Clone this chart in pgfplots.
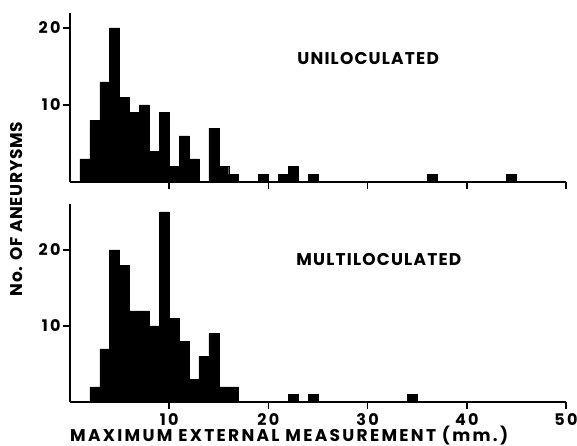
\documentclass[border=0pt]{standalone}
\usepackage{fontspec}
\setmainfont{Poppins}[LetterSpace=7]
\usepackage{pgfplots}
\pgfplotsset{compat=1.18}

% bins are 1 mm wide, x = left edge of bin; last row closes the last bin
\pgfplotstableread{
x  n
1  3
2  8
3  13
4  20
5  11
6  9
7  10
8  4
9  9
10 2
11 6
12 3
13 0
14 7
15 2
16 1
17 0
19 1
20 0
21 1
22 2
23 0
24 1
25 0
36 1
37 0
44 1
45 0
}\unilocdata

\pgfplotstableread{
x  n
2  2
3  7
4  20
5  18
6  12
7  12
8  10
9  25
10 11
11 8
12 3
13 6
14 9
15 2
16 2
17 0
22 1
23 0
24 1
25 0
34 1
35 0
}\multilocdata

\newcommand\lbl{\fontsize{17}{17}\selectfont\bfseries}

\pgfplotsset{
  panel/.style={
    scale only axis,
    width=496pt,
    xmin=0, xmax=50,
    ymin=0,
    axis lines=left,
    axis line style={-, line width=2.6pt},
    tick align=outside,
    major tick length=7pt,
    tick style={line width=1.6pt, black},
    xtick={10,20,30,40,50},
    ytick={10,20},
    tick label style={font=\fontsize{16}{16}\selectfont\bfseries\addfontfeatures{LetterSpace=14}},
    xticklabel style={yshift=-1.5pt},
    yticklabel style={xshift=1pt},
    /pgf/number format/assume math mode=true,
    clip=false,
  },
}

\begin{document}
\begin{tikzpicture}
\useasboundingbox (0,0) rectangle (577pt,446pt);

\begin{axis}[panel,
  at={(70pt,264pt)}, anchor=south west,
  height=169.4pt, ymax=22,
  xticklabels={},
]
\addplot[ybar interval, fill=black, draw=black, line width=0.4pt] table[x=x, y=n] {\unilocdata};
\node[anchor=base west, inner sep=0pt, font=\lbl]
  at (axis cs:22.9,15.2) {UNILOCULATED};
\end{axis}

\begin{axis}[panel,
  at={(70pt,44pt)}, anchor=south west,
  height=197.6pt, ymax=26,
]
\addplot[ybar interval, fill=black, draw=black, line width=0.4pt] table[x=x, y=n] {\multilocdata};
\node[anchor=base west, inner sep=0pt, font=\lbl]
  at (axis cs:22.8,17.9) {MULTILOCULATED};
\node[anchor=base west, inner sep=0pt, font=\lbl\addfontfeatures{LetterSpace=13.5}]
  at (rel axis cs:0,0) [yshift=-39.5pt] {MAXIMUM EXTERNAL MEASUREMENT (mm.)};
\end{axis}

\node[rotate=90, inner sep=0pt,
  font=\fontsize{17}{17}\selectfont\bfseries\addfontfeatures{LetterSpace=4}]
  at (17pt,237pt) {No. OF ANEURYSMS};
\end{tikzpicture}
\end{document}
